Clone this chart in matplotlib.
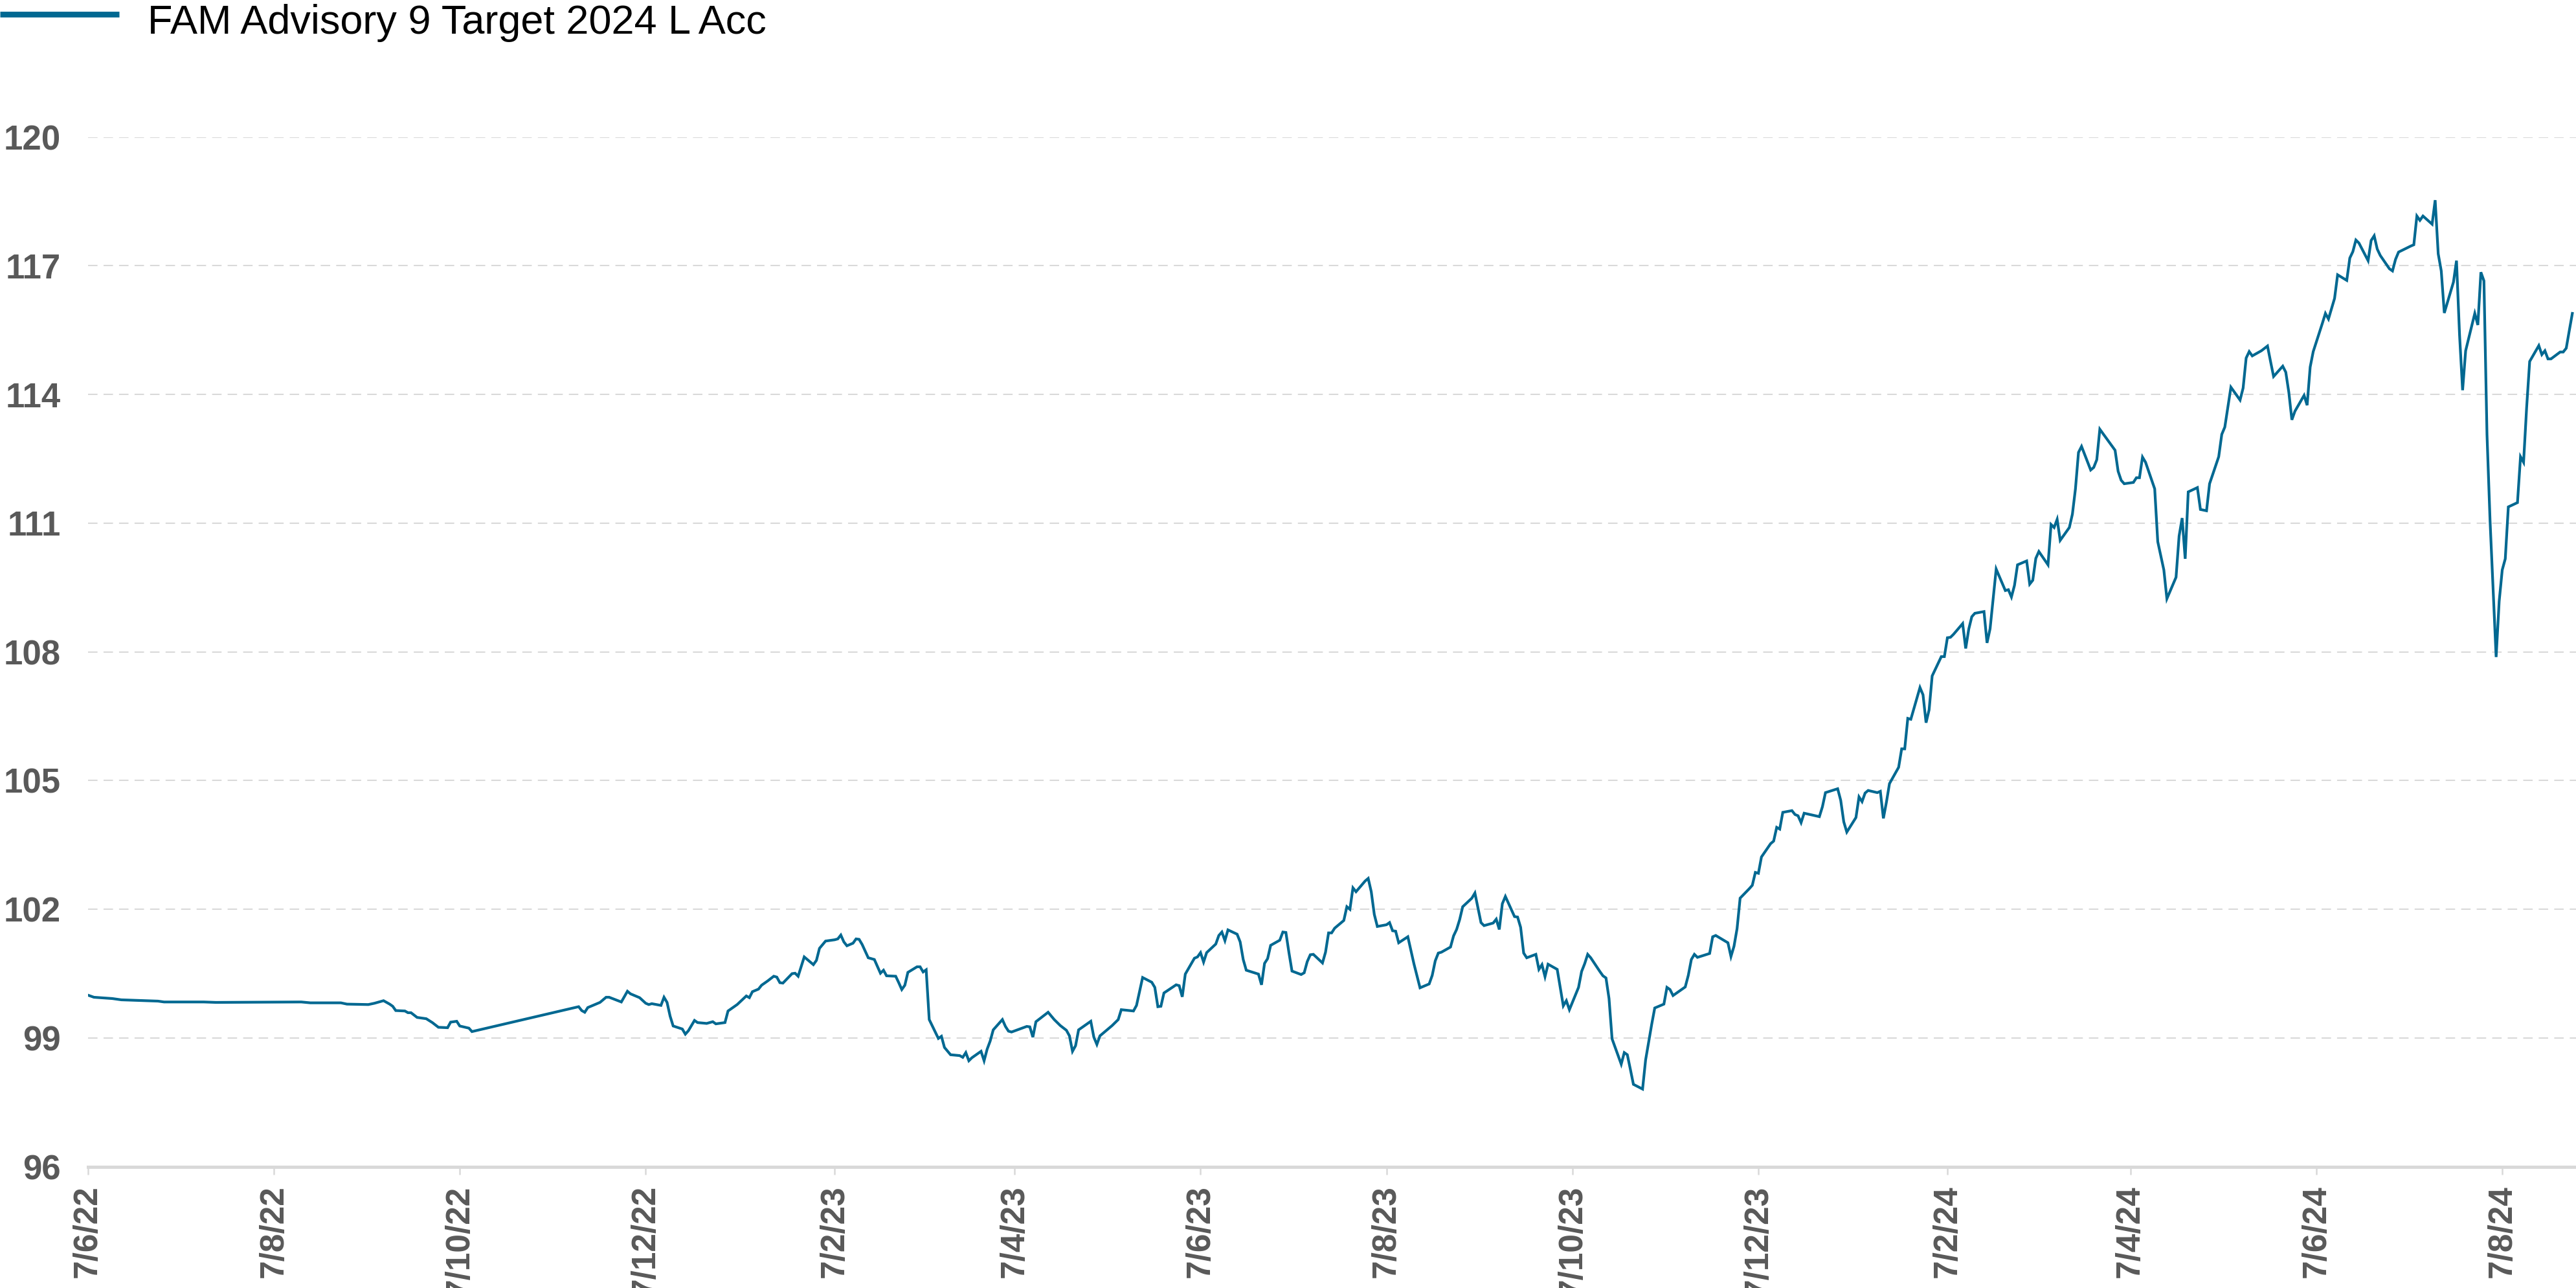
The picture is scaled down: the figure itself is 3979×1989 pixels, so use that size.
import matplotlib
matplotlib.use("Agg")
import matplotlib.pyplot as plt
from matplotlib.lines import Line2D
import pandas as pd

# fonts: narrow bold for ticks, Arial-like for the legend
plt.rcParams['font.family'] = ['Liberation Sans Narrow', 'Liberation Sans', 'DejaVu Sans']

W, H, DPI = 3979, 1989, 200

series_name = "FAM Advisory 9 Target 2024 L Acc"
start_date = "2022-06-07"

# days since 7/6/22 and the fund value
days = [
    0, 2, 8, 11, 23, 25, 30, 38, 42, 70, 73, 83, 85, 92, 94, 97, 99, 100, 101, 104,
    105, 106, 108, 111, 113, 115, 118, 119, 121, 122, 125, 126,
    161, 162, 163, 164, 168, 170, 171, 175, 177, 178, 181, 183, 184, 185, 188, 189, 190, 191,
    192, 195, 196, 197, 199, 200, 203, 205, 206, 209, 210, 213, 216, 217, 218, 220, 221, 223,
    225, 226, 227, 228, 231, 232, 233, 235, 238, 239, 240, 242, 245, 246, 247, 248, 249, 251,
    252, 253, 254, 256, 258, 259, 260, 261, 262, 265, 266, 267, 268, 269, 272, 273, 274, 275,
    276, 279, 280, 281, 283, 286, 287, 288, 289, 290, 293, 294, 295, 296, 297, 300, 301, 302,
    303, 308, 309, 310, 311, 315, 317, 319, 321, 322, 323, 324, 325, 329, 330, 331, 332, 336,
    338, 339, 343, 344, 346, 349, 350, 351, 352, 353, 357, 358, 359, 360, 363, 364, 365, 366,
    367, 370, 371, 372, 373, 374, 377, 378, 379, 380, 384, 385, 386, 387, 388, 391, 392, 393,
    394, 395, 398, 399, 400, 401, 402, 405, 406, 407, 408, 409, 412, 413, 414, 415, 416, 419,
    420, 421, 422, 423, 426, 427, 428, 429, 430, 433, 435, 437, 440, 441, 442, 443, 444, 447,
    448, 449, 450, 451, 454, 455, 457, 458, 461, 462, 463, 464, 465, 468, 469, 470, 471, 472,
    475, 476, 477, 478, 479, 482, 484, 485, 486, 489, 490, 491, 492, 493, 496, 497, 498, 499,
    500, 503, 504, 505, 506, 507, 510, 511, 513, 514, 517, 518, 519, 520, 524, 525, 526, 527,
    528, 532, 533, 534, 538, 539, 540, 541, 542, 545, 546, 547, 548, 549, 552, 553, 554, 555,
    556, 559, 560, 561, 562, 563, 568, 569, 570, 574, 575, 576, 577, 580, 581, 582, 583, 584,
    587, 588, 589, 590, 591, 594, 595, 596, 597, 598, 601, 602, 603, 604, 605, 608, 609, 610,
    611, 612, 615, 616, 617, 618, 619, 622, 623, 624, 626, 629, 630, 631, 632, 633, 636, 637,
    638, 639, 640, 643, 644, 645, 646, 647, 650, 651, 652, 653, 654, 657, 658, 659, 660, 665,
    666, 667, 668, 671, 672, 673, 674, 675, 678, 679, 681, 682, 685, 686, 687, 688, 689, 692,
    693, 695, 696, 699, 700, 701, 703, 706, 707, 708, 709, 710, 713, 715, 716, 717, 720, 721,
    722, 723, 724, 727, 728, 729, 730, 733, 734, 735, 737, 738, 741, 742, 743, 744, 745, 748,
    749, 750, 751, 752, 755, 756, 757, 758, 762, 763, 764, 765, 766, 769, 770, 771, 772, 773,
    776, 777, 778, 779, 780, 783, 784, 785, 786, 787, 788, 790, 791, 792, 793, 794, 797, 798,
    799, 800, 801, 804, 805, 806, 807, 808, 811, 812, 813, 814, 815,
]
nav = [
    100.00, 99.95, 99.92, 99.89, 99.86, 99.84, 99.84, 99.84, 99.83, 99.84, 99.82, 99.82, 99.79, 99.78, 99.81, 99.87, 99.79, 99.74, 99.64, 99.63,
    99.59, 99.59, 99.48, 99.45, 99.36, 99.25, 99.24, 99.37, 99.39, 99.28, 99.23, 99.15,
    99.73, 99.64, 99.60, 99.71, 99.83, 99.95, 99.95, 99.84, 100.09, 100.03, 99.94, 99.81, 99.78, 99.80, 99.76, 99.95, 99.83, 99.51,
    99.28, 99.21, 99.09, 99.17, 99.41, 99.36, 99.34, 99.38, 99.33, 99.36, 99.63, 99.78, 99.98, 99.94, 100.08, 100.14, 100.23, 100.33,
    100.44, 100.42, 100.29, 100.28, 100.50, 100.51, 100.44, 100.89, 100.71, 100.81, 101.09, 101.26, 101.29, 101.31, 101.40, 101.24, 101.15, 101.21,
    101.31, 101.30, 101.18, 100.87, 100.83, 100.67, 100.51, 100.58, 100.45, 100.44, 100.29, 100.13, 100.23, 100.53, 100.66, 100.66, 100.54, 100.59,
    99.43, 98.99, 99.04, 98.78, 98.61, 98.59, 98.55, 98.66, 98.47, 98.54, 98.69, 98.47, 98.74, 98.93, 99.19, 99.43, 99.27, 99.16,
    99.14, 99.27, 99.26, 99.02, 99.38, 99.60, 99.43, 99.29, 99.18, 99.05, 98.69, 98.82, 99.19, 99.39, 99.02, 98.85, 99.05, 99.29,
    99.43, 99.66, 99.63, 99.76, 100.41, 100.30, 100.18, 99.73, 99.74, 100.05, 100.24, 100.22, 99.96, 100.49, 100.86, 100.89, 100.99, 100.77,
    100.99, 101.19, 101.39, 101.47, 101.27, 101.52, 101.42, 101.24, 100.83, 100.58, 100.49, 100.24, 100.74, 100.85, 101.16, 101.28, 101.47, 101.46,
    100.99, 100.56, 100.48, 100.52, 100.78, 100.94, 100.95, 100.75, 101.00, 101.45, 101.45, 101.56, 101.74, 102.06, 102.00, 102.50, 102.41, 102.66,
    102.72, 102.41, 101.88, 101.60, 101.64, 101.69, 101.50, 101.49, 101.22, 101.36, 100.73, 100.17, 100.26, 100.46, 100.80, 100.98, 101.00, 101.12,
    101.38, 101.53, 101.76, 102.06, 102.26, 102.38, 101.69, 101.62, 101.68, 101.77, 101.53, 102.13, 102.30, 101.83, 101.82, 101.58, 100.98, 100.87,
    100.95, 100.60, 100.71, 100.43, 100.72, 100.60, 99.75, 99.87, 99.66, 100.18, 100.55, 100.73, 100.95, 100.87, 100.55, 100.45, 100.40, 99.92,
    98.98, 98.39, 98.66, 98.61, 98.27, 97.92, 97.81, 98.49, 99.32, 99.70, 99.79, 100.18, 100.13, 99.99, 100.19, 100.46, 100.83, 100.95,
    100.88, 100.97, 101.36, 101.39, 101.22, 100.90, 101.14, 101.55, 102.26, 102.48, 102.56, 102.86, 102.84, 103.22, 103.53, 103.59, 103.91, 103.87,
    104.26, 104.30, 104.21, 104.18, 104.02, 104.24, 104.16, 104.39, 104.72, 104.81, 104.54, 104.04, 103.80, 104.14, 104.62, 104.51, 104.71, 104.77,
    104.72, 104.75, 104.12, 104.50, 104.93, 105.31, 105.74, 105.74, 106.45, 106.43, 107.17, 107.00, 106.35, 106.65, 107.44, 107.89, 107.89, 108.33,
    108.34, 108.41, 108.66, 108.08, 108.53, 108.82, 108.90, 108.94, 108.21, 108.54, 109.93, 109.43, 109.45, 109.28, 109.55, 110.03, 110.12, 109.58,
    109.67, 110.18, 110.34, 110.03, 110.97, 110.90, 111.09, 110.60, 110.90, 111.21, 111.80, 112.65, 112.79, 112.24, 112.30, 112.48, 113.19, 112.70,
    112.21, 112.00, 111.92, 111.95, 112.06, 112.06, 112.54, 112.42, 111.80, 110.57, 109.91, 109.24, 109.74, 110.70, 111.12, 110.17, 111.73, 111.83,
    111.32, 111.29, 111.92, 112.55, 113.07, 113.24, 114.17, 113.87, 114.15, 114.85, 115.00, 114.90, 115.02, 115.13, 114.77, 114.42, 114.66, 114.52,
    114.05, 113.41, 113.61, 113.98, 113.75, 114.64, 115.00, 115.66, 115.89, 115.76, 116.24, 116.79, 116.66, 117.18, 117.33, 117.60, 117.53, 117.12,
    117.59, 117.70, 117.39, 117.24, 116.93, 116.88, 117.15, 117.32, 117.46, 117.49, 118.16, 118.06, 118.16, 117.97, 118.53, 117.28, 116.88, 115.90,
    116.62, 117.12, 115.39, 114.10, 115.02, 115.89, 115.62, 116.85, 116.65, 113.07, 111.07, 107.88, 109.18, 109.91, 110.17, 111.38, 111.48, 112.55,
    112.42, 113.69, 114.77, 115.14, 114.93, 115.02, 114.83, 114.83, 114.99, 114.99, 115.08, 115.49, 115.89,
]

y_ticks = [96, 99, 102, 105, 108, 111, 114, 117, 120]
n_xticks = 14  # every two months from 7/6/22 to 7/8/24

line_color = '#006891'
text_gray = '#595959'
light_gray = '#d9d9d9'

start = pd.Timestamp(start_date)
dates = start + pd.to_timedelta(days, unit='D')
tick_dates = [start + pd.DateOffset(months=2 * i) for i in range(n_xticks)]
tick_labels = [f"{d.day}/{d.month}/{d.year % 100}" for d in tick_dates]

fig = plt.figure(figsize=(W / DPI, H / DPI), dpi=DPI)
ax = fig.add_axes([135.7 / W, 187.3 / H, 1 - 135.7 / W, (1801.7 - 211.7) / H])

ax.plot(dates, nav, color=line_color, lw=1.5, solid_joinstyle='miter')

ax.set_ylim(96, 120)
ax.set_xlim(start, start + pd.Timedelta(days=816.2))

ax.set_yticks(y_ticks)
ax.set_yticklabels([str(v) for v in y_ticks])
ax.set_xticks(tick_dates)
ax.set_xticklabels(tick_labels, rotation=90)

ax.yaxis.grid(True, color=light_gray, linestyle=(0, (7, 4.5)), linewidth=0.75)
ax.set_axisbelow(True)

for side in ['top', 'right', 'left']:
    ax.spines[side].set_visible(False)
ax.spines['bottom'].set_color(light_gray)
ax.spines['bottom'].set_linewidth(1.8)

ax.tick_params(axis='y', length=0, pad=15, labelsize=19, labelcolor=text_gray)
ax.tick_params(axis='x', length=4.3, width=0.9, color=light_gray, pad=6,
               labelsize=18.5, labelcolor=text_gray)
for lbl in ax.get_xticklabels() + ax.get_yticklabels():
    lbl.set_fontweight('bold')

# legend drawn at the top left corner
fig.add_artist(Line2D([0, 184 / W], [1 - 21.7 / H] * 2, transform=fig.transFigure,
                      color=line_color, lw=3.2, solid_capstyle='butt'))
fig.text(228 / W, 1 - 52 / H, series_name, fontsize=22.7, va='baseline', ha='left',
         color='black', family=['Liberation Sans', 'DejaVu Sans'])

fig.savefig('out.png', dpi=DPI)
